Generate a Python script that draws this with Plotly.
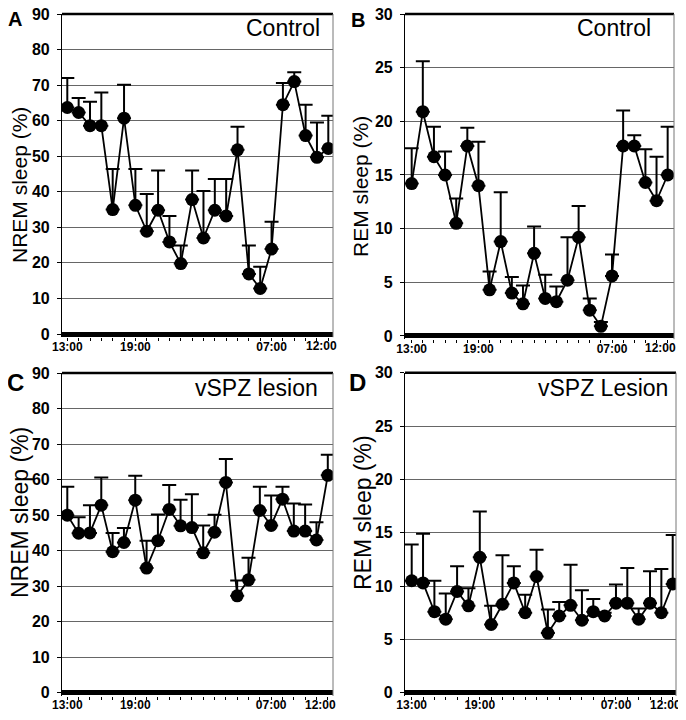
import plotly.graph_objects as go

# ---------------- data ----------------
hours = ["13:00", "14:00", "15:00", "16:00", "17:00", "18:00", "19:00", "20:00",
         "21:00", "22:00", "23:00", "00:00", "01:00", "02:00", "03:00", "04:00",
         "05:00", "06:00", "07:00", "08:00", "09:00", "10:00", "11:00", "12:00"]
shown_ticks = ["13:00", "19:00", "07:00", "12:00"]

# Panel A: Control NREM (mean, mean+SE)
nrem_ctrl = [63.7, 62.3, 58.6, 58.6, 35.0, 60.7, 36.2, 28.9, 34.8, 25.9, 19.8, 37.8,
             27.0, 34.8, 33.2, 51.8, 16.9, 12.8, 23.9, 64.5, 71.0, 55.8, 49.7, 52.2]
nrem_ctrl_top = [72.0, 66.4, 65.3, 67.9, 46.4, 70.1, 46.4, 39.4, 46.0, 33.2, 24.9, 46.0,
                 40.2, 43.6, 43.6, 58.3, 24.9, 18.9, 31.6, 70.6, 73.6, 64.5, 59.5, 61.4]

# Panel B: Control REM
rem_ctrl = [14.2, 20.9, 16.7, 15.0, 10.5, 17.7, 14.0, 4.3, 8.8, 4.0, 3.0, 7.7,
            3.5, 3.2, 5.2, 9.2, 2.4, 0.9, 5.6, 17.7, 17.7, 14.3, 12.6, 15.0]
rem_ctrl_top = [17.5, 25.6, 19.5, 17.2, 12.8, 19.4, 18.1, 6.0, 13.4, 5.5, 4.7, 10.2,
                5.7, 4.6, 9.2, 12.1, 3.5, 1.3, 7.6, 21.0, 18.7, 17.4, 16.7, 19.5]

# Panel C: vSPZ lesion NREM
nrem_les = [50.0, 44.9, 45.0, 52.8, 39.7, 42.3, 54.2, 35.1, 42.8, 51.6, 47.0, 46.5,
            39.4, 45.2, 59.2, 27.3, 31.8, 51.3, 47.1, 54.5, 45.5, 45.5, 43.0, 61.2]
nrem_les_top = [58.0, 49.4, 52.8, 60.6, 45.0, 46.4, 61.1, 42.8, 50.2, 58.5, 54.3, 55.9,
                47.1, 50.1, 65.8, 31.6, 38.0, 58.0, 55.5, 58.0, 53.3, 53.0, 48.0, 67.0]

# Panel D: vSPZ lesion REM
rem_les = [10.5, 10.3, 7.6, 6.9, 9.5, 8.15, 12.7, 6.4, 8.3, 10.3, 7.5, 10.9,
           5.6, 7.2, 8.2, 6.8, 7.6, 7.2, 8.4, 8.4, 6.9, 8.4, 7.5, 10.2]
rem_les_top = [13.9, 14.9, 10.5, 9.3, 11.85, 9.8, 17.0, 8.15, 12.9, 11.85, 9.2, 13.4,
               7.8, 8.5, 12.0, 9.6, 8.8, 7.5, 10.15, 11.7, 7.9, 11.4, 11.6, 14.8]

FONT = "Liberation Sans, Arial, Helvetica, sans-serif"

# The page body has an 8px margin; the figure is sized so it fits the 686x720 window.
OFF = 8
W, H = 686 - OFF, 720 - 2 * OFF


def px(x):
    return (x - OFF) / W


def py(y):
    return 1 - (y - OFF) / H


panels = [
    dict(v=nrem_ctrl, t=nrem_ctrl_top, xd=(62, 333), yd=(337.2, 14),
         xr=[-0.467, 23.414], yr=[-0.9, 90], dt=10, title="NREM sleep (%)", lab="Control",
         letter="A", tx=19, ty=185, tfs=21, lx=15, ly=19, lfs=20, labx=322, laby=28),
    dict(v=rem_ctrl, t=rem_ctrl_top, xd=(405, 674), yd=(339.2, 14),
         xr=[-0.60, 23.57], yr=[-0.3, 30], dt=5, title="REM sleep (%)", lab="Control",
         letter="B", tx=360, ty=187, tfs=21, lx=358, ly=20, lfs=20, labx=653, laby=28),
    dict(v=nrem_les, t=nrem_les_top, xd=(62, 333), yd=(696, 373),
         xr=[-0.468, 23.46], yr=[-0.9, 90], dt=10, title="NREM sleep (%)", lab="vSPZ lesion",
         letter="C", tx=20, ty=513, tfs=23, lx=15, ly=382, lfs=24, labx=320, laby=388),
    dict(v=rem_les, t=rem_les_top, xd=(405, 676), yd=(696, 372.7),
         xr=[-0.59, 23.29], yr=[-0.3, 30], dt=5, title="REM sleep (%)", lab="vSPZ Lesion",
         letter="D", tx=363, ty=513, tfs=23, lx=358, ly=382, lfs=24, labx=670, laby=388),
]

fig = go.Figure()
annotations = []
shapes = []
# the last hour label is drawn separately, nudged inside the frame as in the original
last_label = hours[-1]
ticktext = [h if (h in shown_ticks and h != last_label) else "" for h in hours]
XT_FONT = dict(family=FONT, size=12, color="black", weight="bold")

for i, p in enumerate(panels):
    n = i + 1
    xa = "x" if n == 1 else f"x{n}"
    ya = "y" if n == 1 else f"y{n}"
    err = [t - v for t, v in zip(p["t"], p["v"])]
    fig.add_trace(go.Scatter(
        x=hours, y=p["v"], xaxis=xa, yaxis=ya, mode="lines+markers",
        line=dict(color="black", width=1.8),
        marker=dict(color="black", size=13),
        error_y=dict(type="data", symmetric=False, array=err,
                     arrayminus=[0] * len(err), color="black", thickness=2, width=7),
        showlegend=False, hoverinfo="skip"))

    xkey = "xaxis" if n == 1 else f"xaxis{n}"
    ykey = "yaxis" if n == 1 else f"yaxis{n}"
    fig.update_layout(**{
        xkey: dict(domain=[px(p["xd"][0]), px(p["xd"][1])], anchor=ya, type="category",
                   range=p["xr"], categoryorder="array", categoryarray=hours,
                   tickmode="array", tickvals=hours, ticktext=ticktext,
                   ticks="outside", ticklen=3, tickcolor="black", tickwidth=1,
                   ticklabelstandoff=-5, ticklabeloverflow="allow",
                   showgrid=False, showline=False, zeroline=False,
                   automargin=False, tickfont=XT_FONT, fixedrange=True),
        ykey: dict(domain=[py(p["yd"][0]), py(p["yd"][1])], anchor=xa, range=p["yr"],
                   dtick=p["dt"], tick0=0,
                   showgrid=True, gridcolor="#666", gridwidth=1,
                   zeroline=True, zerolinecolor="black", zerolinewidth=5,
                   showline=True, linecolor="black", linewidth=1.2,
                   ticks="outside", ticklen=4, tickcolor="black",
                   ticklabelstandoff=4, ticklabeloverflow="allow", automargin=False,
                   tickfont=dict(family=FONT, size=16, color="black", weight="bold"),
                   fixedrange=True),
    })
    shapes.append(dict(type="line", xref=f"{xa} domain", yref=f"{ya} domain",
                       x0=0, x1=1, y0=1, y1=1, line=dict(color="black", width=2.5)))
    shapes.append(dict(type="line", xref=f"{xa} domain", yref=f"{ya} domain",
                       x0=1, x1=1, y0=0, y1=1, line=dict(color="#777", width=1)))
    # last x tick label
    annotations.append(dict(text=last_label, xref=xa, yref=f"{ya} domain",
                            x=last_label, y=0, xshift=-7, yshift=-8.5, borderpad=0,
                            showarrow=False, xanchor="center", yanchor="middle",
                            font=XT_FONT))
    annotations.append(dict(text=p["title"], xref="paper", yref="paper",
                            x=px(p["tx"]), y=py(p["ty"]), textangle=-90,
                            showarrow=False, xanchor="center", yanchor="middle",
                            font=dict(family=FONT, size=p["tfs"], color="black")))
    annotations.append(dict(text=f"<b>{p['letter']}</b>", xref="paper", yref="paper",
                            x=px(p["lx"]), y=py(p["ly"]), showarrow=False,
                            xanchor="center", yanchor="middle",
                            font=dict(family=FONT, size=p["lfs"], color="black")))
    annotations.append(dict(text=p["lab"], xref="paper", yref="paper",
                            x=px(p["labx"]), y=py(p["laby"]), showarrow=False,
                            xanchor="right", yanchor="middle",
                            font=dict(family=FONT, size=23, color="black")))

fig.update_layout(
    width=W, height=H,
    margin=dict(l=0, r=0, t=0, b=0, autoexpand=False),
    paper_bgcolor="white", plot_bgcolor="white",
    annotations=annotations, shapes=shapes,
    showlegend=False,
)

fig.write_html("out.html")
